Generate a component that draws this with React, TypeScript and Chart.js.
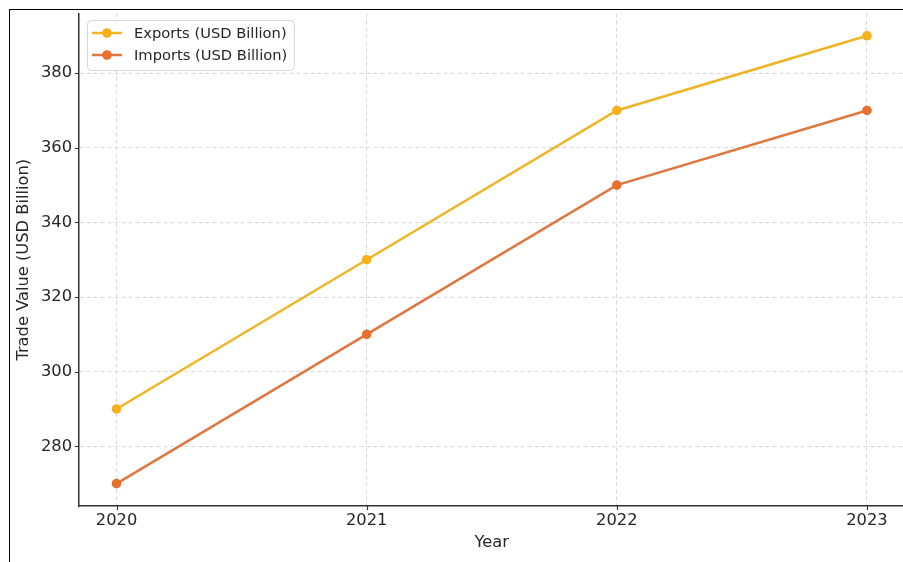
import React, { useEffect, useRef } from "react";
import { Chart, registerables } from "chart.js";

Chart.register(...registerables);

const years = [2020, 2021, 2022, 2023];
const exportsValues = [290, 330, 370, 390];
const importsValues = [270, 310, 350, 370];
const yTicks = [280, 300, 320, 340, 360, 380];
const seriesLabels = ["Exports (USD Billion)", "Imports (USD Billion)"];
const seriesColors = ["#EFB526", "#DE7840"];
const markerColors = ["#F5B01A", "#E8702C"];

const FONT = "'DejaVu Sans', sans-serif";
const TEXT = "#262626";

const CANVAS_W = 920;
const CANVAS_H = 562;

const tickMarks = {
  id: "tickMarks",
  afterDatasetsDraw(chart: any) {
    const { ctx, chartArea, scales } = chart;
    ctx.save();
    ctx.strokeStyle = "#333";
    ctx.lineWidth = 1.2;
    ctx.beginPath();
    scales.x.ticks.forEach((t: any) => {
      const px = Math.round(scales.x.getPixelForValue(t.value)) + 0.5;
      ctx.moveTo(px, chartArea.bottom);
      ctx.lineTo(px, chartArea.bottom + 4);
    });
    scales.y.ticks.forEach((t: any) => {
      const py = Math.round(scales.y.getPixelForValue(t.value)) + 0.5;
      ctx.moveTo(chartArea.left, py);
      ctx.lineTo(chartArea.left - 4, py);
    });
    ctx.stroke();
    ctx.restore();
  },
};

const customLegend = {
  id: "customLegend",
  afterDraw(chart: any) {
    const { ctx } = chart;
    const x = 87.5, y = 20.5, w = 207, h = 50, r = 4;
    ctx.save();
    ctx.beginPath();
    ctx.moveTo(x + r, y);
    ctx.lineTo(x + w - r, y);
    ctx.quadraticCurveTo(x + w, y, x + w, y + r);
    ctx.lineTo(x + w, y + h - r);
    ctx.quadraticCurveTo(x + w, y + h, x + w - r, y + h);
    ctx.lineTo(x + r, y + h);
    ctx.quadraticCurveTo(x, y + h, x, y + h - r);
    ctx.lineTo(x, y + r);
    ctx.quadraticCurveTo(x, y, x + r, y);
    ctx.closePath();
    ctx.fillStyle = "rgba(255,255,255,0.85)";
    ctx.fill();
    ctx.strokeStyle = "#d6d6d6";
    ctx.lineWidth = 1;
    ctx.stroke();
    chart.data.datasets.forEach((ds: any, i: number) => {
      const cy = 33 + i * 22;
      ctx.strokeStyle = ds.borderColor;
      ctx.lineWidth = 2.5;
      ctx.beginPath();
      ctx.moveTo(92, cy);
      ctx.lineTo(122, cy);
      ctx.stroke();
      ctx.fillStyle = ds.pointBackgroundColor;
      ctx.beginPath();
      ctx.arc(107, cy, 4.8, 0, Math.PI * 2);
      ctx.fill();
      ctx.fillStyle = TEXT;
      ctx.font = `14.7px ${FONT}`;
      ctx.textBaseline = "middle";
      ctx.textAlign = "left";
      ctx.fillText(ds.label, 134, cy + 1);
    });
    ctx.restore();
  },
};

export default function App() {
  const ref = useRef<HTMLCanvasElement | null>(null);
  useEffect(() => {
    if (!ref.current) return;
    const makeDs = (label: string, data: number[], i: number) => ({
      label,
      data: years.map((yr, k) => ({ x: yr, y: data[k] })),
      borderColor: seriesColors[i],
      backgroundColor: markerColors[i],
      pointBackgroundColor: markerColors[i],
      pointBorderColor: markerColors[i],
      pointRadius: 4.8,
      pointBorderWidth: 0,
      borderWidth: 2.5,
      tension: 0,
    });
    const chart = new Chart(ref.current, {
      type: "line",
      data: {
        datasets: [
          makeDs(seriesLabels[0], exportsValues, 0),
          makeDs(seriesLabels[1], importsValues, 1),
        ],
      },
      plugins: [tickMarks, customLegend],
      options: {
        responsive: false,
        animation: false,
        devicePixelRatio: 1,
        layout: { padding: { top: 13.4, left: 0, right: CANVAS_W - 904.5, bottom: 0 } },
        plugins: { legend: { display: false }, tooltip: { enabled: false } },
        scales: {
          x: {
            type: "linear",
            min: 2019.85,
            max: 2023.15,
            afterBuildTicks: (s: any) => {
              s.ticks = years.map((v) => ({ value: v }));
            },
            afterFit: (s: any) => {
              s.height = CANVAS_H - 506;
              s.paddingLeft = 0;
              s.paddingRight = 0;
            },
            ticks: {
              padding: 5,
              color: TEXT,
              font: { family: FONT, size: 16.3 },
              callback: (v: any) => String(v),
              maxRotation: 0,
            },
            grid: {
              color: "#d9d9d9",
              lineWidth: 1,
              drawTicks: false,
            },
            border: { display: true, color: "#333", width: 1.5, dash: [4, 3] },
            title: {
              display: true,
              text: "Year",
              color: TEXT,
              font: { family: FONT, size: 16.3 },
              padding: { top: 0, bottom: 9.4 },
            },
          },
          y: {
            type: "linear",
            min: 264,
            max: 396,
            afterBuildTicks: (s: any) => {
              s.ticks = yTicks.map((v) => ({ value: v }));
            },
            afterFit: (s: any) => {
              s.width = 79;
              s.paddingTop = 0;
              s.paddingBottom = 0;
            },
            ticks: {
              padding: 7,
              color: TEXT,
              font: { family: FONT, size: 16.3 },
              callback: (v: any) => String(v),
            },
            grid: {
              color: "#d9d9d9",
              lineWidth: 1,
              drawTicks: false,
            },
            border: { display: true, color: "#333", width: 1.5, dash: [4, 3] },
            title: {
              display: true,
              text: "Trade Value (USD Billion)",
              color: TEXT,
              font: { family: FONT, size: 16.3 },
              padding: { top: 14, bottom: 0 },
            },
          },
        },
      },
    } as any);
    return () => chart.destroy();
  }, []);

  return (
    <div
      style={{
        position: "absolute",
        left: 0,
        top: 0,
        width: 903,
        height: 562,
        overflow: "hidden",
        background: "#fff",
      }}
    >
      <canvas
        ref={ref}
        width={CANVAS_W}
        height={CANVAS_H}
        style={{ position: "absolute", left: 0, top: 0, width: CANVAS_W, height: CANVAS_H }}
      />
      <div
        style={{
          position: "absolute",
          left: 9,
          top: 9,
          width: 903,
          height: 562,
          borderLeft: "1.5px solid #000",
          borderTop: "1.5px solid #000",
          pointerEvents: "none",
        }}
      />
    </div>
  );
}
